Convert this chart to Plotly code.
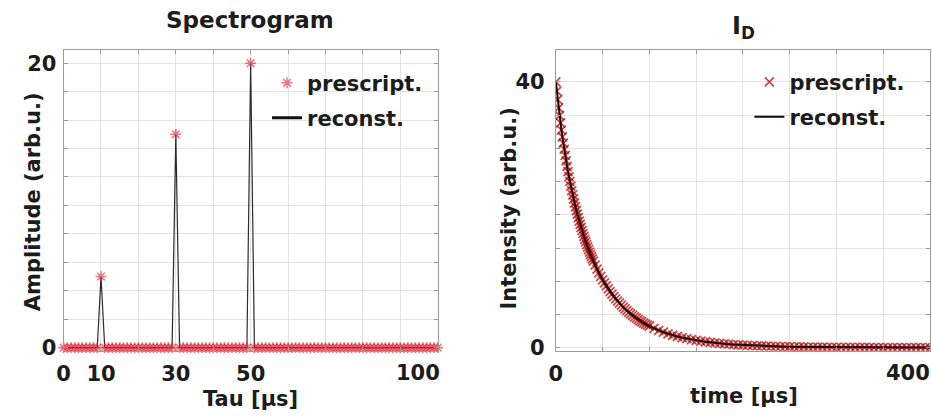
import plotly.graph_objects as go

# Spectrogram (left): prescribed lifetime amplitudes on a 1 us grid
tau_us = list(range(0, 101))
peak_tau_us = [10, 30, 50]
peak_amplitude = [5, 15, 20]
amplitude = [peak_amplitude[peak_tau_us.index(t)] if t in peak_tau_us else 0 for t in tau_us]
reconst_amplitude = list(amplitude)

# Decay I_D (right)
time_us = list(range(0, 41)) + list(range(42, 101, 2)) + list(range(105, 401, 5))
intensity = [
    40.00, 38.64, 37.34, 36.11, 34.94, 33.83, 32.76, 31.75, 30.78, 29.85,
    28.96, 28.11, 27.29, 26.51, 25.76, 25.03, 24.33, 23.66, 23.01, 22.39,
    21.78, 21.20, 20.64, 20.10, 19.57, 19.06, 18.57, 18.09, 17.63, 17.18,
    16.74, 16.32, 15.91, 15.51, 15.13, 14.75, 14.39, 14.04, 13.69, 13.36,
    13.03,
    12.41, 11.82, 11.26, 10.73, 10.22, 9.75, 9.29, 8.86, 8.45, 8.07,
    7.70, 7.35, 7.01, 6.69, 6.39, 6.10, 5.83, 5.57, 5.32, 5.08,
    4.86, 4.64, 4.44, 4.24, 4.05, 3.88, 3.71, 3.54, 3.39, 3.24,
    2.90, 2.60, 2.33, 2.09, 1.87, 1.68, 1.51, 1.36, 1.22, 1.10,
    0.99, 0.89, 0.80, 0.72, 0.65, 0.58, 0.53, 0.47, 0.43, 0.39,
    0.35, 0.31, 0.28, 0.26, 0.23, 0.21, 0.19, 0.17, 0.15, 0.14,
    0.12, 0.11, 0.10, 0.09, 0.08, 0.08, 0.07, 0.06, 0.06, 0.05,
    0.045, 0.041, 0.037, 0.033, 0.030, 0.027, 0.025, 0.022, 0.020, 0.018,
    0.017, 0.015, 0.014, 0.012, 0.011, 0.010, 0.009, 0.008, 0.007, 0.007,
]
reconst_intensity = list(intensity)

left_xticks = list(range(0, 101, 10))
left_xlabels = ["0", "10", "", "30", "", "50", "", "", "", "", ""]
left_yticks = list(range(0, 21, 2))
left_ylabels = ["0"] + [""] * 9 + ["20"]
right_xticks = list(range(0, 401, 50))
right_xlabels = ["0"] + [""] * 8
right_yticks = list(range(0, 46, 5))
right_ylabels = ["0", "", "", "", "", "", "", "", "40", ""]
# last x tick labels sit a little left of their tick in the reference
end_labels = [("x", 100, "100", -20), ("x2", 400, "400", -22)]

FONT = "DejaVu Sans"
INK = "#1c1c1c"
W, H = 932, 420
# the capture comes out ~10px short vertically, so stretch y positions to match
Y_STRETCH = 430 / 420


def px(x, y):
    """reference pixel position -> paper coords"""
    return x / W, max(0.0, (H - y * Y_STRETCH) / H)


fig = go.Figure()

# left: reconst line under the stars
fig.add_trace(go.Scatter(
    x=tau_us, y=reconst_amplitude, mode="lines", showlegend=False,
    line=dict(color="#2a2a2a", width=1.2), xaxis="x", yaxis="y",
))
fig.add_trace(go.Scatter(
    x=tau_us, y=amplitude, mode="markers", name="prescript.",
    marker=dict(symbol="asterisk-open", size=9, color="rgba(215,35,50,0.6)",
                line=dict(width=1.6, color="rgba(215,35,50,0.6)")),
    cliponaxis=False, xaxis="x", yaxis="y", legend="legend",
))
# legend swatch for the thin reconst line (drawn thicker, like the reference key)
fig.add_trace(go.Scatter(
    x=[None], y=[None], mode="lines", name="reconst.",
    line=dict(color="#111111", width=3), xaxis="x", yaxis="y", legend="legend2",
))

# right: markers under the black line
fig.add_trace(go.Scatter(
    x=time_us, y=intensity, mode="markers", name="prescript.",
    marker=dict(symbol="x-thin-open", size=9, color="rgba(175,0,0,0.7)",
                line=dict(width=1.8, color="rgba(175,0,0,0.7)")),
    xaxis="x2", yaxis="y2", legend="legend3",
))
fig.add_trace(go.Scatter(
    x=time_us, y=reconst_intensity, mode="lines", name="reconst.",
    line=dict(color="#1a0505", width=2),
    xaxis="x2", yaxis="y2", legend="legend4",
))

tickfont = dict(family=FONT, size=21, color=INK, weight="bold")
axis_common = dict(
    showgrid=True, gridcolor="#e3e3e3", gridwidth=1,
    showline=True, linecolor="#9a9a9a", linewidth=1, mirror="ticks",
    ticks="inside", ticklen=4, tickcolor="#9a9a9a",
    zeroline=False, tickfont=tickfont, tickmode="array",
)

y_dom = [px(0, 350)[1], px(0, 50)[1]]

legend_common = dict(
    bgcolor="rgba(0,0,0,0)", borderwidth=0, xanchor="left", yanchor="middle",
    itemwidth=30, font=dict(family=FONT, size=21, color=INK, weight="bold"),
)


def legend_at(x, y):
    lx, ly = px(x, y)
    return dict(legend_common, x=lx, y=ly)


fig.update_layout(
    width=W, height=H, autosize=False,
    margin=dict(l=0, r=0, t=0, b=0),
    paper_bgcolor="white", plot_bgcolor="white",
    xaxis=dict(axis_common, domain=[57 / W, 434 / W], range=[0, 100],
               tickvals=left_xticks, ticktext=left_xlabels, anchor="y",
               ticklabelstandoff=4),
    yaxis=dict(axis_common, domain=y_dom, range=[-0.21, 20.92],
               tickvals=left_yticks, ticktext=left_ylabels, anchor="x",
               ticklabelstandoff=2),
    xaxis2=dict(axis_common, domain=[553 / W, 930 / W], range=[0, 400],
                tickvals=right_xticks, ticktext=right_xlabels, anchor="y2",
                ticklabelstandoff=4),
    yaxis2=dict(axis_common, domain=y_dom, range=[-0.45, 44.8],
                tickvals=right_yticks, ticktext=right_ylabels, anchor="x2",
                ticklabelstandoff=6),
    legend=legend_at(262, 83),
    legend2=legend_at(262, 118),
    legend3=legend_at(748, 82),
    legend4=legend_at(748, 117),
    showlegend=True,
)

for xref, xval, text, shift in end_labels:
    fig.add_annotation(
        x=xval, xref=xref, y=px(0, 372)[1], yref="paper", text=text,
        showarrow=False, xshift=shift, xanchor="center", yanchor="middle",
        font=tickfont,
    )

# titles and axis titles
texts = [
    ("Spectrogram", 245, 20, 23, 0),
    ("I<sub>D</sub>", 742, 27, 24, 0),
    ("Amplitude (arb.u.)", 27, 201, 21, -90),
    ("Intensity (arb.u.)", 506, 208, 21, -90),
    ("Tau [μs]", 245, 398, 21, 0),
    ("time [μs]", 743, 395, 21, 0),
]
for text, x, y, size, angle in texts:
    ax, ay = px(x, y)
    fig.add_annotation(
        x=ax, y=ay, xref="paper", yref="paper", text=text, showarrow=False,
        textangle=angle, xanchor="center", yanchor="middle",
        font=dict(family=FONT, size=size, color=INK, weight="bold"),
    )

# pin the page to exactly the figure size (no margin, no extra scroll height)
box = "margin:0;padding:0;overflow:hidden;width:932px;height:420px;"
page_css = (
    f"document.documentElement.style.cssText='{box}';"
    f"document.body.style.cssText='{box}';"
)
fig.write_html(
    "out.html",
    config={"displayModeBar": False, "responsive": False},
    post_script=page_css,
)
